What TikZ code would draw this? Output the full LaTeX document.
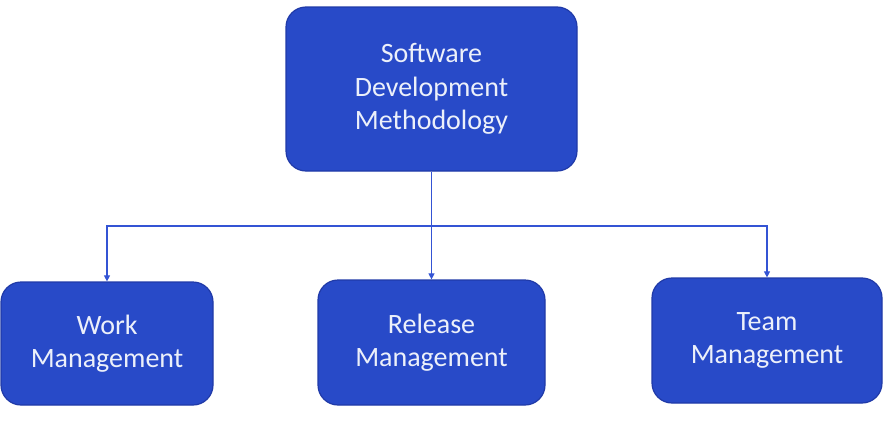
\documentclass[tikz,border=0pt]{standalone}
\usepackage{fontspec}
\setmainfont{Carlito}
\usetikzlibrary{arrows.meta}
\definecolor{boxfill}{RGB}{40,74,200}
\definecolor{boxedge}{RGB}{32,58,168}
\definecolor{linkblue}{RGB}{52,84,212}
\definecolor{labeltext}{RGB}{236,240,250}
\begin{document}
\begin{tikzpicture}[x=1pt,y=-1pt,
  block/.style={draw=boxedge,line width=1.2pt,fill=boxfill,rounded corners=20pt,
    text=labeltext,align=center,font=\fontsize{28}{33.5}\selectfont,inner sep=0pt},
  link/.style={draw=linkblue,line width=1.1pt},
  tip/.style={-{Triangle[length=6pt,width=6pt]}}]
  \useasboundingbox (0,0) rectangle (884,423);
  % root
  \node[block,minimum width=291pt,minimum height=164pt] (sdm) at (431.5,89)
    {Software\\Development\\Methodology};
  % children
  \node[block,minimum width=212pt,minimum height=123pt] (work) at (107,343.5)
    {Work\\Management};
  \node[block,minimum width=227pt,minimum height=125pt] (rel) at (431.5,342.5)
    {Release\\Management};
  \node[block,minimum width=230pt,minimum height=125pt] (team) at (767,340.5)
    {Team\\Management};
  % tree connectors
  \coordinate (bus) at (431.5,226);
  \draw[link] (sdm.south) -- (bus);
  \draw[link,tip] (bus) -| (work.north);
  \draw[link,tip] (bus) -- (rel.north);
  \draw[link,tip] (bus) -| (team.north);
\end{tikzpicture}
\end{document}
